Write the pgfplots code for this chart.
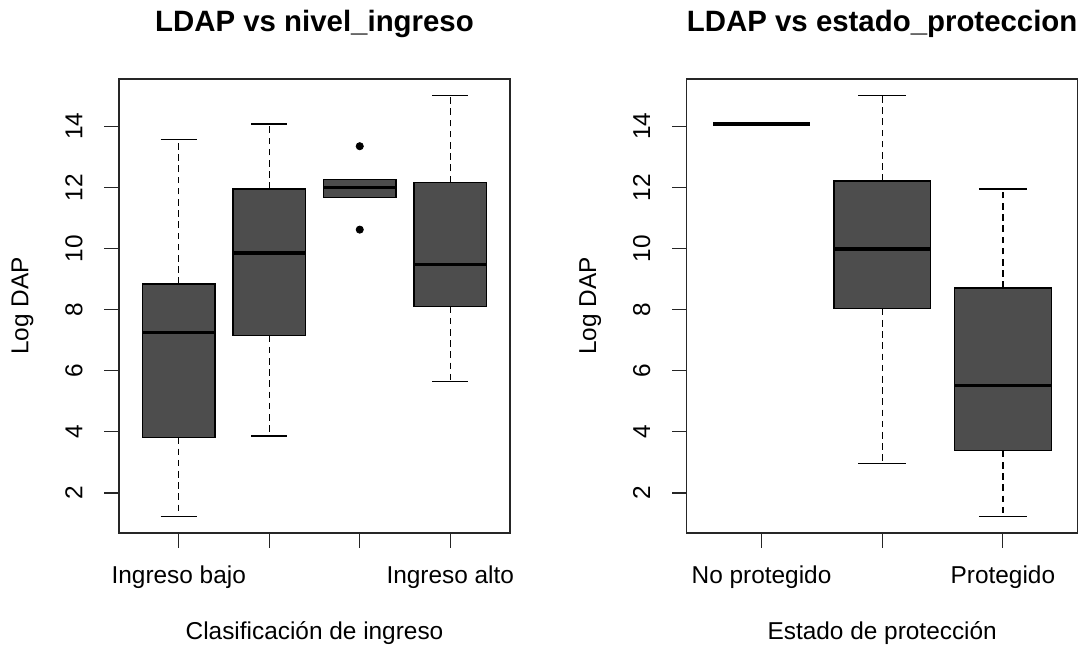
\documentclass[border=0pt]{standalone}
\usepackage{fontspec}
\setmainfont{Liberation Sans}
\usepackage{pgfplots}
\pgfplotsset{compat=1.18}
\usepgfplotslibrary{statistics}
\definecolor{boxgray}{RGB}{77,77,77}

\pgfplotsset{
  rbox/.style={
    scale only axis, width=195.5pt, height=227pt,
    ymin=0.69, ymax=15.55,
    ytick={2,4,...,14},
    tick align=outside, tick pos=left,
    major tick length=7.3pt,
    axis line style={line width=0.6pt, black!85},
    every tick/.style={line width=0.6pt, black!85},
    /pgf/number format/assume math mode=true,
    tick label style={font=\fontsize{12.2}{14}\selectfont},
    xticklabel style={anchor=base, yshift=-18pt},
    yticklabel style={xshift=-11pt, rotate=90, anchor=base},
    label style={font=\fontsize{12.2}{14}\selectfont},
    every axis title shift=0pt,
    title style={font=\fontsize{14.7}{17}\selectfont\bfseries,
      at={(axis description cs:0.5,1.1042)}, anchor=base},
    xlabel style={at={(axis description cs:0.5,-0.2335)}, anchor=base},
    ylabel style={at={(axis description cs:-0.2317,0.5)}, anchor=base},
    ylabel={Log DAP},
    boxplot/draw direction=y,
    boxplot/box extend=0.8,
    boxplot/whisker extend=0.4,
    boxplot/every box/.style={fill=boxgray, draw=black, line width=0.6pt},
    boxplot/every median/.style={line width=1.8pt, draw=black},
    boxplot/draw/lower whisker/.code={%
      \draw[line width=0.65pt, dash pattern=on 3.3pt off 2.3pt]
        (boxplot cs:\pgfplotsboxplotvalue{lower quartile}) --
        (boxplot cs:\pgfplotsboxplotvalue{lower whisker});
      \draw[line width=0.65pt]
        (boxplot whisker cs:\pgfplotsboxplotvalue{lower whisker},0) --
        (boxplot whisker cs:\pgfplotsboxplotvalue{lower whisker},1);
    },
    boxplot/draw/upper whisker/.code={%
      \draw[line width=0.65pt, dash pattern=on 3.3pt off 2.3pt]
        (boxplot cs:\pgfplotsboxplotvalue{upper quartile}) --
        (boxplot cs:\pgfplotsboxplotvalue{upper whisker});
      \draw[line width=0.65pt]
        (boxplot whisker cs:\pgfplotsboxplotvalue{upper whisker},0) --
        (boxplot whisker cs:\pgfplotsboxplotvalue{upper whisker},1);
    },
  },
}

\begin{document}
\begin{tikzpicture}
\path[use as bounding box] (0,0) rectangle (540.5pt,325pt);

% Log DAP by income level
\begin{axis}[rbox, at={(59.5pt,58.5pt)}, anchor=south west,
  xmin=0.34, xmax=4.66,
  xtick={1,2,3,4}, xticklabels={Ingreso bajo,,,Ingreso alto},
  title={LDAP vs nivel\_ingreso},
  xlabel={Clasificación de ingreso}]
  \addplot[boxplot prepared={lower whisker=1.24, lower quartile=3.82,
    median=7.25, upper quartile=8.84, upper whisker=13.58, draw position=1}]
    coordinates {};
  \addplot[boxplot prepared={lower whisker=3.87, lower quartile=7.15,
    median=9.85, upper quartile=11.95, upper whisker=14.08, draw position=2}]
    coordinates {};
  \addplot[boxplot prepared={lower whisker=11.67, lower quartile=11.67,
    median=12.0, upper quartile=12.26, upper whisker=12.26, draw position=3},
    mark=*, mark size=1.8pt, mark options={fill=black, draw=black}]
    table[row sep=\\, y index=0] {13.35\\ 10.62\\};
  \addplot[boxplot prepared={lower whisker=5.65, lower quartile=8.10,
    median=9.48, upper quartile=12.17, upper whisker=15.0, draw position=4}]
    coordinates {};
\end{axis}

% Log DAP by protection status
\begin{axis}[rbox, at={(343.35pt,58.5pt)}, anchor=south west,
  xmin=0.38, xmax=3.62,
  xtick={1,2,3}, xticklabels={No protegido,,Protegido},
  title={LDAP vs estado\_proteccion},
  xlabel={Estado de protección}]
  \addplot[boxplot prepared={lower whisker=14.08, lower quartile=14.08,
    median=14.08, upper quartile=14.08, upper whisker=14.08, draw position=1},
    boxplot/every box/.style={draw=none, fill=none},
    boxplot/whisker extend=0]
    coordinates {};
  \addplot[boxplot prepared={lower whisker=2.96, lower quartile=8.03,
    median=9.98, upper quartile=12.21, upper whisker=15.0, draw position=2}]
    coordinates {};
  \addplot[boxplot prepared={lower whisker=1.24, lower quartile=3.38,
    median=5.52, upper quartile=8.71, upper whisker=11.95, draw position=3}]
    coordinates {};
\end{axis}
\end{tikzpicture}
\end{document}
